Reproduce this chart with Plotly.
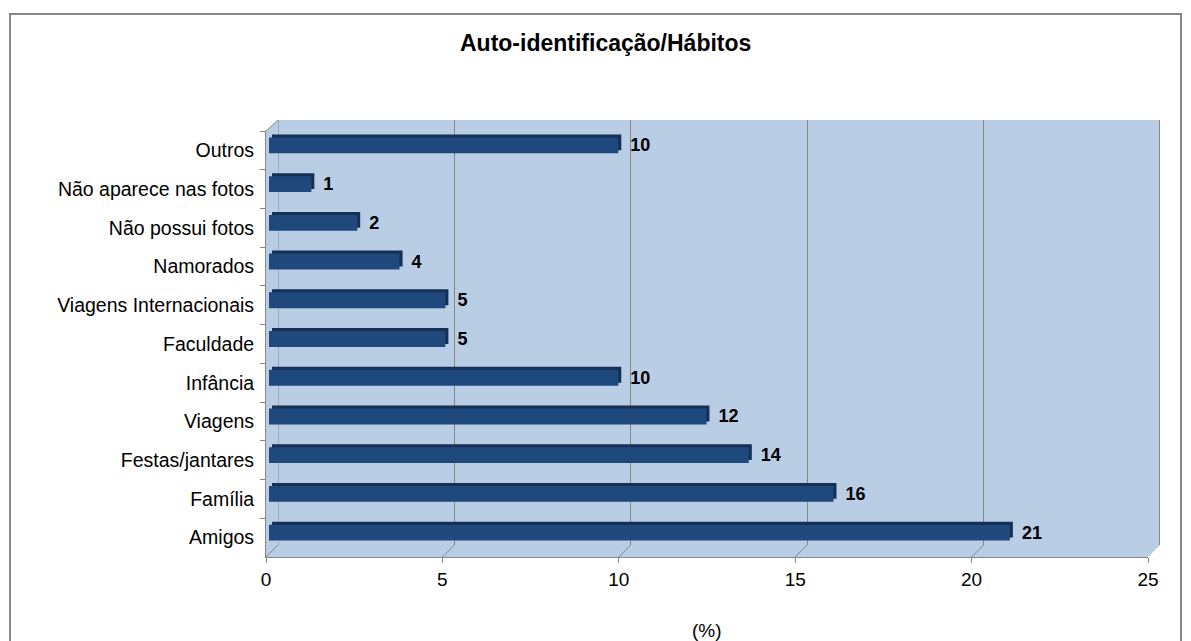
import plotly.graph_objects as go

# ---- data (top to bottom as shown) ----
categories = ["Outros", "Não aparece nas fotos", "Não possui fotos", "Namorados",
              "Viagens Internacionais", "Faculdade", "Infância", "Viagens",
              "Festas/jantares", "Família", "Amigos"]
values = [9.9, 1.2, 2.5, 3.7, 5.0, 5.0, 9.9, 12.4, 13.6, 16.0, 21.0]
labels = ["10", "1", "2", "4", "5", "5", "10", "12", "14", "16", "21"]
x_ticks = [0, 5, 10, 15, 20, 25]
title_text = "Auto-identificação/Hábitos"
x_title = "(%)"

W, H = 1191, 641
def px(x):
    return x / W
def py(y):
    return 1 - y / H

FONT = "Liberation Sans, Arial, sans-serif"
GRAY = "#878787"
WALL = "#B9CDE5"
FRONT = "#1F497D"
DEPTH = "#152F55"
n = len(categories)
cat_range = [n - 0.5, -0.5]

fig = go.Figure()

fig.add_trace(go.Scatter(x=values, y=categories, mode="markers",
                         marker=dict(opacity=0), hoverinfo="skip",
                         showlegend=False, xaxis="x", yaxis="y"))
fig.add_trace(go.Scatter(x=[0], y=[0], mode="markers", marker=dict(opacity=0),
                         hoverinfo="skip", showlegend=False, xaxis="x2", yaxis="y2"))
fig.add_trace(go.Bar(x=values, y=categories, orientation="h", width=0.41,
                     marker=dict(color=DEPTH, line=dict(width=0)),
                     hoverinfo="skip", showlegend=False, xaxis="x3", yaxis="y3"))
fig.add_trace(go.Bar(x=values, y=categories, orientation="h", width=0.41,
                     marker=dict(color=FRONT, line=dict(width=0)),
                     text=["\u2002" + t for t in labels], textposition="outside",
                     constraintext="none", cliponaxis=False,
                     textfont=dict(family=FONT, size=18, color="black", weight="bold"),
                     showlegend=False, xaxis="x4", yaxis="y4"))

shapes = []
shapes.append(dict(type="rect", xref="paper", yref="paper",
                   x0=px(10), x1=px(1181), y0=py(700), y1=py(14),
                   line=dict(color=GRAY, width=2), fillcolor="rgba(0,0,0,0)", layer="below"))
path = (f"M {px(266)},{py(557)} L {px(266)},{py(131)} L {px(278)},{py(120)} "
        f"L {px(1160)},{py(120)} L {px(1160)},{py(545)} L {px(1148)},{py(557)} Z")
shapes.append(dict(type="path", xref="paper", yref="paper", path=path,
                   fillcolor=WALL, line=dict(width=0), layer="below"))
shapes.append(dict(type="line", xref="paper", yref="paper",
                   x0=px(266), y0=py(131), x1=px(278), y1=py(120),
                   line=dict(color=GRAY, width=1), layer="below"))
# back-wall edge gridlines at the range ends (plotly omits them)
for v, w in ((x_ticks[0], 1), (x_ticks[-1], 2)):
    shapes.append(dict(type="line", xref="x2", yref="y2",
                       x0=v, x1=v, y0=0, y1=1,
                       line=dict(color=GRAY, width=w), layer="below"))
for v in x_ticks:
    shapes.append(dict(type="line", xref="x", yref="paper",
                       xsizemode="pixel", xanchor=v, x0=0, x1=12,
                       ysizemode="pixel", yanchor=py(557), y0=0, y1=12,
                       line=dict(color=GRAY, width=1), layer="below"))

fig.update_layout(
    width=W, height=H, autosize=False,
    margin=dict(l=0, r=0, t=0, b=0, pad=0),
    paper_bgcolor="white", plot_bgcolor="rgba(0,0,0,0)",
    font=dict(family=FONT, color="black"),
    barmode="overlay",
    shapes=shapes,
    xaxis=dict(domain=[px(266), px(1148)], range=[0, 25], anchor="y",
               tickvals=x_ticks, ticks="outside", ticklen=5, tickcolor=GRAY,
               showline=True, linecolor=GRAY, linewidth=1, showgrid=False,
               zeroline=False, tickfont=dict(size=19, family=FONT, color="black"),
               automargin=False, fixedrange=True),
    yaxis=dict(domain=[py(557), py(131)], type="category", categoryorder="array",
               categoryarray=categories, range=cat_range, anchor="x",
               ticks="outside", tickson="boundaries", ticklen=5, tickcolor=GRAY,
               showline=True, linecolor=GRAY, linewidth=1, showgrid=False,
               zeroline=False, tickfont=dict(size=19.5, family=FONT, color="black"),
               ticklabelstandoff=7, automargin=False, fixedrange=True),
    xaxis2=dict(domain=[px(278), px(1160)], range=[0, 25], anchor="y2",
                dtick=5, tick0=0, showgrid=True, gridcolor=GRAY, gridwidth=1,
                showticklabels=False, ticks="", zeroline=False, showline=False,
                automargin=False, fixedrange=True),
    yaxis2=dict(domain=[py(545), py(120)], range=[0, 1], anchor="x2",
                visible=False, showgrid=False, fixedrange=True),
    xaxis3=dict(domain=[px(272), px(1154)], range=[0, 25], anchor="y3",
                visible=False, showgrid=False, fixedrange=True),
    yaxis3=dict(domain=[py(549), py(123)], type="category", categoryorder="array",
                categoryarray=categories, range=cat_range, anchor="x3",
                visible=False, showgrid=False, fixedrange=True),
    xaxis4=dict(domain=[px(269), px(1151)], range=[0, 25], anchor="y4",
                visible=False, showgrid=False, fixedrange=True),
    yaxis4=dict(domain=[py(552), py(126)], type="category", categoryorder="array",
                categoryarray=categories, range=cat_range, anchor="x4",
                visible=False, showgrid=False, fixedrange=True),
    annotations=[
        dict(text=f"<b>{title_text}</b>", xref="paper", yref="paper",
             x=px(605), y=py(43), xanchor="center", yanchor="middle",
             showarrow=False, font=dict(size=23, family=FONT, color="black")),
        dict(text=x_title, xref="paper", yref="paper",
             x=px(707), y=py(630), xanchor="center", yanchor="middle",
             showarrow=False, font=dict(size=19, family=FONT, color="black")),
    ],
)

fig.write_html(
    "out.html",
    post_script="document.documentElement.style.overflow='hidden';"
                "document.body.style.margin='0';document.body.style.overflow='hidden';",
)
